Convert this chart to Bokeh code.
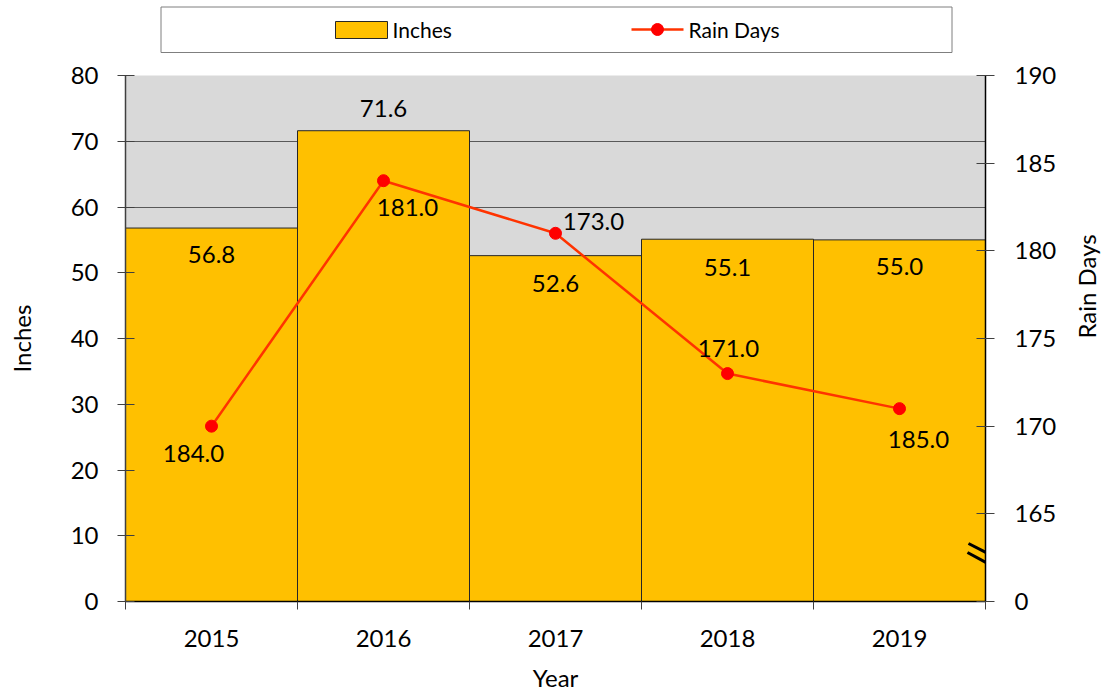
import math
from bokeh.plotting import figure
from bokeh.models import Range1d, LinearAxis, FixedTicker, ColumnDataSource
from bokeh.layouts import column
from bokeh.core.properties import value
from bokeh.embed import file_html
from bokeh.resources import INLINE

# ---- data ----
years = ["2015", "2016", "2017", "2018", "2019"]
inches = [56.8, 71.6, 52.6, 55.1, 55.0]
inch_labels = ["56.8", "71.6", "52.6", "55.1", "55.0"]
rain_days = [170, 184, 181, 173, 171]
rain_labels = ["184.0", "181.0", "173.0", "171.0", "185.0"]
inch_ticks = [0, 10, 20, 30, 40, 50, 60, 70, 80]
rain_ticks = [160, 165, 170, 175, 180, 185, 190]
rain_tick_labels = ["0", "165", "170", "175", "180", "185", "190"]

FONT = "Lato"
BAR = "#FFC000"
LINE = "#FF3300"
MARK = "#FF0000"

W = 1120
FL, FR = 125, 985          # frame left/right (page px)
BL, BR = FL, W - FR        # borders
LEG_H = 54
MAIN_H = 640
FT, FB = 75, 601           # frame top/bottom (page px)

xs = list(range(len(years)))

# label placement (screen px)
bar_lab_dy = [26, -22, 28, 28, 27]
rain_lab_dx = [-18, 24, 38, 1, 19]
rain_lab_dy = [27, 27, -12, -25, 31]

# ---- legend strip ----
lg = figure(width=W, height=LEG_H, x_range=Range1d(FL, FR), y_range=Range1d(LEG_H, 0),
            output_backend="svg", toolbar_location=None,
            min_border_left=BL, min_border_right=BR, min_border_top=0, min_border_bottom=0,
            x_axis_location=None, y_axis_location=None, outline_line_color=None,
            background_fill_color="white", border_fill_color="white")
lg.grid.visible = False
lg.quad(left=[160.5], right=[951.5], top=[6.5], bottom=[52], fill_color="white",
        line_color="#7F7F7F", line_width=1)
lg.quad(left=[335], right=[387], top=[21], bottom=[38], fill_color=BAR,
        line_color="#262626", line_width=1)
lg.line(x=[631, 683], y=[29, 29], line_color=LINE, line_width=2.5)
lg.scatter(x=[657], y=[29], size=12, fill_color=MARK, line_color=MARK)
lg.text(x=[392, 688], y=[29, 29], text=["Inches", "Rain Days"], text_font=value(FONT),
        text_font_size="21px", text_baseline="middle", text_align="left", text_color="black")

# ---- main chart ----
p = figure(width=W, height=MAIN_H, x_range=Range1d(-0.5, len(years) - 0.5),
           y_range=Range1d(inch_ticks[0], inch_ticks[-1]),
           output_backend="svg", toolbar_location=None,
           min_border_left=BL, min_border_right=BR, min_border_top=FT - LEG_H,
           min_border_bottom=MAIN_H - (FB - LEG_H),
           background_fill_color="#D9D9D9", border_fill_color="white", outline_line_color=None,
           x_axis_label="Year", y_axis_label="Inches")
p.extra_y_ranges = {"rain": Range1d(rain_ticks[0], rain_ticks[-1])}

p.xgrid.visible = False
p.ygrid.ticker = FixedTicker(ticks=inch_ticks)
p.ygrid.grid_line_color = "#595959"
p.ygrid.grid_line_width = 1

src = ColumnDataSource(dict(x=xs, inches=inches, inch_labels=inch_labels, bdy=bar_lab_dy,
                            rain=rain_days, rain_labels=rain_labels,
                            rdx=rain_lab_dx, rdy=rain_lab_dy))

p.vbar(x="x", top="inches", width=1.0, source=src, fill_color=BAR,
       line_color="#262626", line_width=1)
p.text(x="x", y="inches", text="inch_labels", y_offset="bdy", source=src,
       text_font=value(FONT), text_font_size="24px", text_align="center",
       text_baseline="middle", text_color="black")

p.line(x="x", y="rain", source=src, y_range_name="rain", line_color=LINE, line_width=2.5)
p.scatter(x="x", y="rain", source=src, y_range_name="rain", size=12,
          fill_color=MARK, line_color=MARK)
p.text(x="x", y="rain", text="rain_labels", x_offset="rdx", y_offset="rdy", source=src,
       y_range_name="rain", text_font=value(FONT), text_font_size="24px",
       text_align="center", text_baseline="middle", text_color="black")

# axis-break mark on the secondary axis (drawn from pixel geometry of the frame)
xr_span = len(years)
yr_lo, yr_hi = rain_ticks[0], rain_ticks[-1]
def px_to_x(px):
    return -0.5 + (px - FL) * xr_span / (FR - FL)
def py_to_rain(py):
    return yr_lo + (FB - py) * (yr_hi - yr_lo) / (FB - FT)
brk = [((968, 543), (997, 558)), ((967, 552), (993, 566))]
p.segment(x0=[px_to_x(a[0]) for a, b in brk], y0=[py_to_rain(a[1]) for a, b in brk],
          x1=[px_to_x(b[0]) for a, b in brk], y1=[py_to_rain(b[1]) for a, b in brk],
          y_range_name="rain", line_color="black", line_width=3)

# x axis
xa = p.xaxis[0]
xa.ticker = FixedTicker(ticks=xs, minor_ticks=[i - 0.5 for i in range(len(years) + 1)])
xa.major_label_overrides = {i: y for i, y in enumerate(years)}
xa.major_tick_in = 0
xa.major_tick_out = 0
xa.minor_tick_in = 0
xa.minor_tick_out = 8
xa.minor_tick_line_color = "#404040"
xa.axis_line_color = "black"
xa.axis_line_width = 1.5
xa.major_label_standoff = 20
xa.axis_label_standoff = 13

# left axis
ya = p.yaxis[0]
ya.ticker = FixedTicker(ticks=inch_ticks)
ya.major_tick_in = 9
ya.major_tick_out = 8
ya.minor_tick_in = 0
ya.minor_tick_out = 0
ya.axis_line_color = "#404040"
ya.axis_line_width = 1.5
ya.major_tick_line_color = "#404040"
ya.major_label_standoff = 19
ya.axis_label_standoff = 32

# right axis
ra = LinearAxis(y_range_name="rain", axis_label="Rain Days")
ra.ticker = FixedTicker(ticks=rain_ticks)
ra.major_label_overrides = {t: l for t, l in zip(rain_ticks, rain_tick_labels)}
ra.major_tick_in = 9
ra.major_tick_out = 9
ra.minor_tick_in = 0
ra.minor_tick_out = 0
ra.axis_line_color = "black"
ra.axis_line_width = 1.5
ra.major_tick_line_color = "#404040"
ra.major_label_standoff = 20
ra.axis_label_standoff = 27
ra.axis_label_orientation = math.pi / 2
p.add_layout(ra, "right")

for ax in (xa, ya, ra):
    ax.major_label_text_font = FONT
    ax.major_label_text_font_size = "24px"
    ax.major_label_text_color = "black"
    ax.axis_label_text_font = FONT
    ax.axis_label_text_font_size = "24px"
    ax.axis_label_text_font_style = "normal"
    ax.axis_label_text_color = "black"

layout = column(lg, p)
open("out.html", "w").write(file_html(layout, INLINE))
